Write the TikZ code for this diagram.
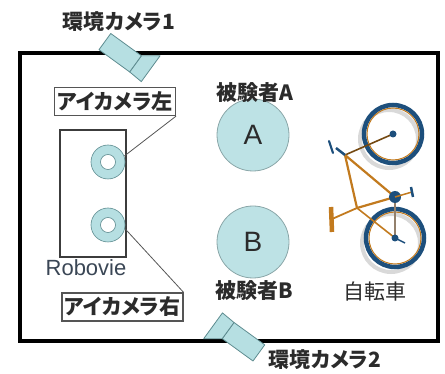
\documentclass[tikz,border=0pt]{standalone}
\usepackage{fontspec}
\setmainfont{Liberation Sans}
\newfontfamily\jp[RawFeature=+palt]{Noto Sans CJK JP}
\usetikzlibrary{positioning}

\definecolor{txt}{HTML}{2B2B2B}
\definecolor{cam}{HTML}{B6DFE2}
\definecolor{camline}{HTML}{5E8C90}
\definecolor{subj}{HTML}{BDE2E5}
\definecolor{subjline}{HTML}{8AA6A8}
\definecolor{boxline}{HTML}{555555}
\definecolor{robo}{HTML}{3C3C3C}
\definecolor{robotxt}{HTML}{3A4655}
\definecolor{bikeblue}{HTML}{1D4F7C}
\definecolor{bikeor}{HTML}{C27A1E}

\begin{document}
\begin{tikzpicture}[x=1pt,y=-1pt,
    lbl/.style={font=\jp\bfseries\fontsize{21}{21}\selectfont, text=txt, inner sep=0pt},
    eyebox/.style={draw=boxline, line width=1.2pt, minimum width=121pt, minimum height=28pt,
      inner sep=0pt, font=\jp\bfseries\fontsize{21}{21}\selectfont, text=txt},
    ring/.style={circle, fill=cam, draw=camline, line width=.6pt, minimum size=34pt, inner sep=0pt},
    hole/.style={circle, fill=white, draw=camline, line width=.6pt, minimum size=15pt, inner sep=0pt},
    subject/.style={circle, fill=subj, draw=subjline, line width=.8pt, minimum size=72pt,
      inner sep=0pt, font=\fontsize{28}{28}\selectfont, text=txt},
    cambody/.style={fill=cam, draw=camline, line width=.8pt, line join=round}]
    \useasboundingbox (0,0) rectangle (445,374);

    % Room
    \draw[line width=4.5pt] (20,53) rectangle (438,341);

    % Room cameras
    \foreach \px/\py/\ang in {120.25/52.75/-36, 243.5/341.75/144} {
      \begin{scope}[shift={(\px,\py)}, rotate=\ang]
        \draw[cambody] (-19,-10) rectangle (19,10);
        \draw[cambody] (19,-10) -- (34,-21) -- (34,11) -- (19,10) -- cycle;
      \end{scope}
    }
    \node[lbl] (cam1) at (119,22) {環境カメラ1};
    \node[lbl] (cam2) at (325,360) {環境カメラ2};

    % Robovie with its two eye cameras
    \node[draw=robo, line width=2pt, minimum width=66pt, minimum height=127pt, inner sep=0pt] (robovie) at (93,193.5) {};
    \node[font=\fontsize{22}{22}\selectfont, text=robotxt, inner sep=0pt] (robolbl) at (86,268) {Robovie};
    \node[ring] (eyeL) at (108,162) {};
    \node[hole] (eyeLin) at (eyeL) {};
    \node[ring] (eyeR) at (108,225) {};
    \node[hole] (eyeRin) at (eyeR) {};
    \node[eyebox] (boxL) at (115,101.5) {アイカメラ左};
    \node[eyebox] (boxR) at (122.5,307) {アイカメラ右};
    \draw[boxline, line width=.8pt] (eyeL.20) -- (boxL.south east);
    \draw[boxline, line width=.8pt] (eyeR.-12) -- (boxR.north east);

    % Subjects
    \node[subject] (subjA) at (253,135) {A};
    \node[subject] (subjB) at (253,242) {B};
    \node[lbl] (lblA) at (255,93) {被験者A};
    \node[lbl] (lblB) at (254,291) {被験者B};

    % Bicycle
    \coordinate (hubF) at (393,134);
    \coordinate (hubR) at (395,238);
    \coordinate (head) at (345,155);
    \coordinate (seatj) at (357,208);
    \coordinate (bb) at (395,197);
    \coordinate (saddle) at (332,219);
    \foreach \h in {hubF,hubR} {
      \draw[gray!30, line width=4pt] ([shift={(-4,5)}]\h) circle (29);
    }
    \foreach \h in {hubF,hubR} {
      \draw[bikeblue, line width=4.5pt] (\h) circle (29);
      \draw[bikeor, line width=1pt] (\h) circle (26);
    }
    \draw[bikeor!60!black, line width=1.6pt] (head) -- (hubF);
    \draw[gray!70!brown, line width=2pt] (bb) -- (hubR);
    \draw[bikeor, line width=1.6pt] (seatj) -- (hubR);
    \draw[bikeor, line width=2.2pt, line join=round] (head) -- (seatj) -- (bb) -- cycle;
    \draw[bikeor, line width=1.8pt] (seatj) -- (saddle);
    \draw[bikeor, line width=4.5pt] (331,207) -- (332,232);
    \draw[bikeblue, line width=2.5pt] (head) -- (336,148);
    \draw[bikeblue, line width=2.2pt, line cap=round] (329,141) -- (333,153);
    \fill[bikeblue] (bb) circle (6);
    \draw[bikeor, line width=1.5pt] (bb) -- (412,192);
    \draw[bikeblue, line width=2.5pt] (411,187) -- (413,197);
    \fill[bikeblue] (hubF) circle (3.5);
    \fill[bikeblue] (hubR) circle (3.5);
    \draw[bikeblue, line width=1.5pt] (hubR) -- (405,243);
    \node[lbl, font=\jp\fontsize{21}{21}\selectfont] (lblBike) at (375,292) {自転車};
  \end{tikzpicture}
\end{document}
